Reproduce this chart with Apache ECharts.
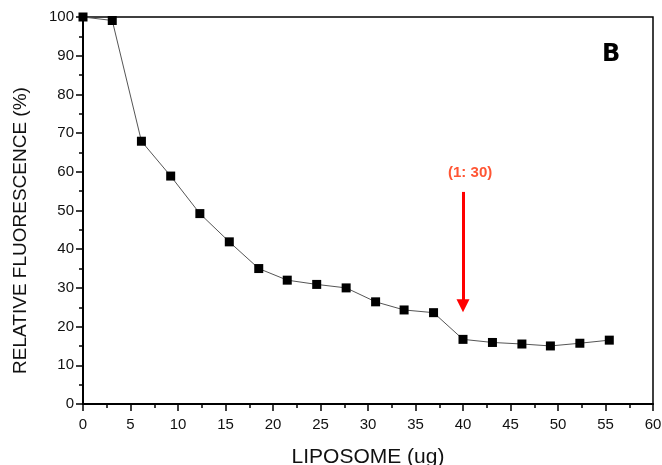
<!DOCTYPE html>
<html><head><meta charset="utf-8">
<script src="https://cdn.jsdelivr.net/npm/echarts@6/dist/echarts.min.js"></script>
<style>html,body{margin:0;padding:0;background:#fff}#c{width:662px;height:465px}</style>
</head><body><div id="c"></div>
<script>
const liposome = [0, 3.08, 6.15, 9.23, 12.3, 15.4, 18.5, 21.5, 24.6, 27.7, 30.8, 33.8, 36.9, 40.0, 43.1, 46.2, 49.2, 52.3, 55.4];
const fluorescence = [100, 99.1, 67.9, 58.9, 49.2, 41.9, 35.0, 32.0, 30.9, 30.0, 26.4, 24.3, 23.6, 16.7, 15.9, 15.5, 15.0, 15.7, 16.5];
const xTicks = [0, 5, 10, 15, 20, 25, 30, 35, 40, 45, 50, 55, 60];
const yTicks = [0, 10, 20, 30, 40, 50, 60, 70, 80, 90, 100];
const arrowX = 40, arrowTop = 54.8, arrowTip = 24.3;
const annotationText = '(1: 30)';
const annotationPos = [40.75, 59.8];
const panelLabel = 'B';

const chart = echarts.init(document.getElementById('c'), null, {renderer: 'canvas'});
const FONT = 'Liberation Sans, Arial, sans-serif';
const axisFont = {fontFamily: FONT, fontSize: 15, color: '#111'};
chart.setOption({
  animation: false,
  backgroundColor: '#fff',
  title: {text: panelLabel, left: 597, top: 38, textStyle: {fontFamily: 'DejaVu Sans', fontWeight: 'bold', fontSize: 24, color: '#000'}},
  grid: {left: 83, right: 9, top: 17, bottom: 61, containLabel: false, outerBoundsMode: 'none', show: true, borderColor: '#000', borderWidth: 1.5, backgroundColor: 'transparent'},
  xAxis: {
    type: 'value', min: xTicks[0], max: xTicks[xTicks.length - 1], interval: 5,
    name: 'LIPOSOME (ug)', nameLocation: 'middle', nameGap: 43,
    nameTextStyle: {fontFamily: FONT, fontSize: 21, color: '#111'},
    axisLine: {lineStyle: {color: '#000', width: 2}},
    axisTick: {show: true, length: 7, lineStyle: {color: '#000', width: 1.5}},
    minorTick: {show: true, splitNumber: 2, length: 4, lineStyle: {color: '#000', width: 1.5}},
    axisLabel: Object.assign({margin: 13}, axisFont),
    splitLine: {show: false}
  },
  yAxis: {
    type: 'value', min: yTicks[0], max: yTicks[yTicks.length - 1], interval: 10,
    name: 'RELATIVE FLUORESCENCE (%)', nameLocation: 'middle', nameGap: 53, nameRotate: 90,
    nameTextStyle: {fontFamily: FONT, fontSize: 19, color: '#111', padding: [0, 40, 0, 0]},
    axisLine: {lineStyle: {color: '#000', width: 2}},
    axisTick: {show: true, length: 7, lineStyle: {color: '#000', width: 1.5}},
    minorTick: {show: true, splitNumber: 2, length: 4, lineStyle: {color: '#000', width: 1.5}},
    axisLabel: Object.assign({margin: 9}, axisFont),
    splitLine: {show: false}
  },
  series: [
    {
      type: 'line',
      data: liposome.map((x, i) => [x, fluorescence[i]]),
      symbol: 'rect', symbolSize: 9,
      itemStyle: {color: '#000'},
      lineStyle: {color: '#555', width: 1},
      z: 3,
      markLine: {
        silent: true,
        symbol: ['none', 'triangle'],
        symbolSize: [13, 13],
        label: {show: false},
        lineStyle: {color: '#ff0000', width: 3, type: 'solid'},
        data: [[{coord: [arrowX, arrowTop], symbol: 'none'}, {coord: [arrowX, arrowTip + 1.1], symbol: 'triangle', symbolRotate: 180}]]
      }
    },
    {
      type: 'scatter',
      data: [annotationPos],
      symbolSize: 0,
      silent: true,
      label: {show: true, position: 'inside', formatter: annotationText, color: '#ff2a00', fontWeight: 'bold', fontSize: 15, fontFamily: FONT}
    }
  ]
});
</script></body></html>
